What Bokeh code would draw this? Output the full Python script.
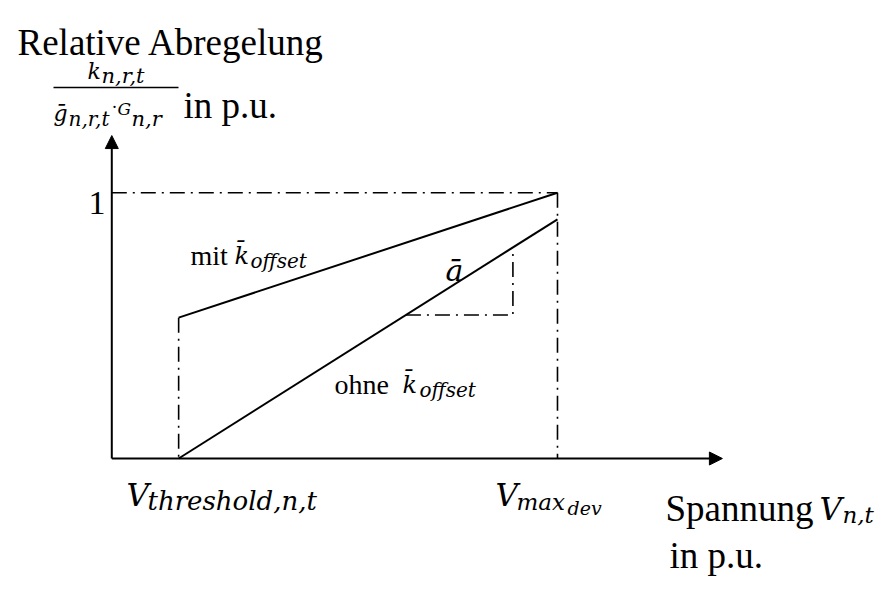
from bokeh.plotting import figure
from bokeh.models import Label, Arrow, NormalHead, Range1d
from bokeh.embed import file_html
from bokeh.resources import INLINE

# ---- data (x in units of V_max_dev, y = relative curtailment in p.u.) ----
v_threshold = 0.15
v_max_dev = 1.0
k_offset = 0.53
y_one = 1.0
ohne_end = 0.9          # value of the "ohne k_offset" line at V_max_dev
x_axis_end = 1.37
y_axis_end = 1.215
tri_y = 0.54            # slope triangle: lower edge
tri_x_right = 0.9       # slope triangle: right edge

mit_x = [v_threshold, v_max_dev]
mit_y = [k_offset, y_one]
ohne_x = [v_threshold, v_max_dev]
ohne_y = [0.0, ohne_end]

W, H = 879, 579
X0, X1 = -0.2497, 1.7225
Y0, Y1 = -0.4552, 1.7231
p = figure(width=W, height=H, output_backend="svg", toolbar_location=None,
           x_axis_location=None, y_axis_location=None, min_border=0,
           x_range=Range1d(X0, X1), y_range=Range1d(Y0, Y1))
p.grid.visible = False
p.outline_line_color = None
p.background_fill_color = "white"

def dx(X):  # screenshot px -> data x
    return X0 + (X - 8) / W * (X1 - X0)
def dy(Y):
    return Y1 - (Y - 8) / H * (Y1 - Y0)

# axes with arrows
for xe, ye in [(x_axis_end, 0), (0, y_axis_end)]:
    p.add_layout(Arrow(end=NormalHead(size=13, fill_color="black", line_color="black"),
                       x_start=0, y_start=0, x_end=xe, y_end=ye,
                       line_width=2, line_color="black"))

dash = "15 6 2 6"
p.line([0, v_max_dev], [y_one, y_one], line_dash=dash, line_color="black", line_width=1.6)
p.line([v_max_dev, v_max_dev], [y_one, 0], line_dash=dash, line_color="black", line_width=1.6)
p.line([v_threshold, v_threshold], [k_offset, 0], line_dash=dash, line_color="black", line_width=1.6)

# curves
p.line(mit_x, mit_y, line_color="black", line_width=2)
p.line(ohne_x, ohne_y, line_color="black", line_width=2)

# slope triangle
slope = (ohne_y[1] - ohne_y[0]) / (ohne_x[1] - ohne_x[0])
tri_x_left = v_threshold + tri_y / slope
tri_y_top = slope * (tri_x_right - v_threshold)
p.line([tri_x_left, tri_x_right, tri_x_right], [tri_y, tri_y, tri_y_top],
       line_dash=dash, line_color="black", line_width=1.6)

SERIF = "Liberation Serif"
MATH = "DejaVu Serif"

def lab(text, X, Y, size, font=SERIF, italic=False):
    p.add_layout(Label(x=X - 8, y=8 + H - Y, x_units="screen", y_units="screen",
                       text=text, text_font=font, text_font_size=f"{size}px",
                       text_font_style="italic" if italic else "normal",
                       text_baseline="alphabetic", text_align="left",
                       text_color="black"))

# y-axis title
lab("Relative Abregelung", 25, 50, 37)
lab("k", 95, 79, 22, MATH, True)
lab("n,r,t", 109, 83, 21, MATH, True)
p.segment(x0=[dx(61)], y0=[dy(95)], x1=[dx(186)], y1=[dy(95)], line_color="black", line_width=1.5)
lab("\u1e21", 61, 121, 22, MATH, True)
lab("n,r,t", 76, 126, 20, MATH, True)
lab("\u00b7", 119, 114, 18, SERIF)
lab("G", 125, 116, 17, MATH, True)
lab("n,r", 139, 126, 21, MATH, True)
lab("in p.u.", 191, 113, 37)

# tick "1"
lab("1", 96, 210, 34)

# curve labels
lab("mit", 198, 263, 28)
lab("k\u0304", 242, 263, 24, MATH, True)
lab("offset", 258, 268, 20, MATH, True)
lab("\u0101", 453, 278, 30, MATH, True)
lab("ohne", 342, 392, 28)
lab("k\u0304", 410, 392, 24, MATH, True)
lab("offset", 427, 397, 20, MATH, True)

# x tick labels
lab("V", 134, 502, 31, MATH, True)
lab("threshold,n,t", 155, 508, 26, MATH, True)
lab("V", 503, 502, 31, MATH, True)
lab("max", 524, 509, 23, MATH, True)
lab("dev", 575, 515, 19, MATH, True)

# x-axis title
lab("Spannung", 673, 516, 37)
lab("V", 827, 516, 31, MATH, True)
lab("n,t", 850, 522, 23, MATH, True)
lab("in p.u.", 677, 563, 37)

open("out.html", "w").write(file_html(p, INLINE))
